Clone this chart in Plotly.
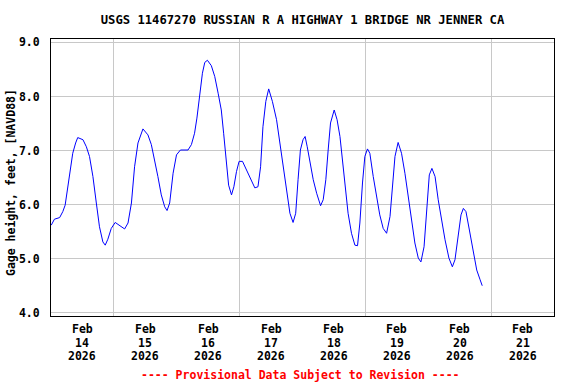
import plotly.graph_objects as go
import pandas as pd

# Hours since 2026-02-14 00:00 and gage height (feet, NAVD88)
hours = [0.1, 1.3, 3.3, 4.5, 5.4, 6.4, 7.3, 8.3, 9.4, 10.2, 12.2, 13.5, 14.7, 16.0, 17.3,
         18.5, 19.8, 20.7, 21.7, 23.0, 24.5, 26.2, 28.1, 29.4, 30.7, 31.9, 33.2, 35.1, 37.0,
         38.3, 39.6, 40.8, 42.1, 43.4, 44.3, 45.3, 46.6, 47.9, 49.4, 52.3, 53.6, 54.8, 55.7,
         56.8, 57.8, 58.7, 59.7, 61.2, 62.5, 63.8, 65.0, 65.9, 67.0, 67.8, 68.9, 69.8, 70.8,
         71.8, 73.1, 74.6, 76.2, 77.8, 79.0, 80.0, 80.9, 82.0, 83.1, 84.5, 86.1, 87.3, 88.6,
         89.9, 91.2, 92.4, 93.4, 94.3, 95.2, 96.2, 97.0, 97.8, 98.8, 100.1, 101.4, 102.9,
         103.9, 104.9, 105.8, 106.7, 108.1, 109.2, 110.3, 111.3, 112.4, 113.4, 114.7, 116.0,
         117.0, 117.9, 118.9, 119.8, 120.8, 121.7, 123.0, 124.3, 125.5, 126.8, 128.1, 129.4,
         130.4, 131.3, 132.5, 133.8, 135.1, 136.4, 137.7, 138.9, 140.2, 141.2, 142.4, 143.4,
         144.4, 145.4, 146.6, 147.8, 149.1, 150.4, 151.9, 153.2, 154.2, 155.5, 156.5, 157.4,
         158.4, 159.7, 161.2, 162.5, 163.8, 164.6]
gage = [5.62, 5.73, 5.76, 5.87, 5.99, 6.30, 6.58, 6.95, 7.14, 7.24, 7.20, 7.07, 6.89, 6.52, 6.03,
        5.59, 5.31, 5.25, 5.36, 5.56, 5.67, 5.62, 5.55, 5.66, 6.03, 6.70, 7.14, 7.40, 7.29,
        7.11, 6.83, 6.52, 6.18, 5.96, 5.89, 6.03, 6.58, 6.92, 7.01, 7.01, 7.11, 7.32, 7.60,
        8.06, 8.43, 8.63, 8.67, 8.57, 8.37, 8.06, 7.75, 7.32, 6.77, 6.36, 6.18, 6.33, 6.61,
        6.80, 6.80, 6.64, 6.46, 6.31, 6.33, 6.70, 7.44, 7.91, 8.14, 7.91, 7.57, 7.17, 6.70,
        6.21, 5.84, 5.67, 5.84, 6.46, 7.01, 7.20, 7.26, 7.07, 6.80, 6.46, 6.21, 5.98,
        6.09, 6.46, 7.01, 7.51, 7.75, 7.57, 7.26, 6.83, 6.33, 5.84, 5.47, 5.25,
        5.24, 5.66, 6.40, 6.89, 7.03, 6.95, 6.52, 6.15, 5.81, 5.56, 5.47, 5.78,
        6.40, 6.89, 7.15, 6.95, 6.58, 6.15, 5.72, 5.29, 5.01, 4.94, 5.22, 5.96,
        6.55, 6.67, 6.52, 6.09, 5.69, 5.35, 5.01, 4.85, 4.98, 5.41, 5.81, 5.93,
        5.87, 5.53, 5.10, 4.79, 4.61, 4.50]

start = pd.Timestamp("2026-02-14 00:00")
days = [14, 15, 16, 17, 18, 19, 20, 21]
tick_month = "Feb"
tick_year = "2026"
y_ticks = [4.0, 5.0, 6.0, 7.0, 8.0, 9.0]

times = start + pd.to_timedelta(hours, unit="h")
tick_pos = [pd.Timestamp(2026, 2, d, 12) for d in days]

FONT = "DejaVu Sans Mono"
grid = "#c8c8c8"
tfont = dict(family=FONT, size=11.5, color="black", weight="bold")

fig = go.Figure()
fig.add_trace(go.Scatter(x=times, y=gage, mode="lines",
                         line=dict(color="#0000ff", width=1), showlegend=False,
                         hoverinfo="x+y"))

annotations = []
# x tick labels: three rows (month, day, year) centred at noon of each day
for pos, d in zip(tick_pos, days):
    for text, shift in ((tick_month, -13), (str(d), -26.5), (tick_year, -39.5)):
        annotations.append(dict(text=text, x=pos, xref="x", y=0, yref="paper",
                                yshift=shift, xanchor="center", yanchor="middle",
                                showarrow=False, font=tfont))
annotations += [
    dict(text="Gage height, feet, [NAVD88]", textangle=-90,
         xref="paper", yref="paper", x=(11 - 51) / 503, y=0.48,
         xanchor="center", yanchor="middle", showarrow=False, font=tfont),
    dict(text="---- Provisional Data Subject to Revision ----",
         xref="paper", yref="paper", x=0.497, y=0, yshift=-59,
         xanchor="center", yanchor="middle", showarrow=False,
         font=dict(family=FONT, size=11.5, color="#ff0000", weight="bold")),
]

fig.update_layout(
    width=576, height=384,
    margin=dict(l=51, r=22, t=39, b=68, autoexpand=False),
    paper_bgcolor="white", plot_bgcolor="white",
    font=tfont,
    title=dict(text="USGS 11467270 RUSSIAN R A HIGHWAY 1 BRIDGE NR JENNER CA",
               x=0.5, xref="paper", yref="container", y=1 - 20 / 384, yanchor="middle",
               font=dict(family=FONT, size=12.2, color="black", weight="bold")),
    xaxis=dict(
        type="date", automargin=False,
        range=[start, start + pd.Timedelta(days=8)],
        showticklabels=False,
        showgrid=False, ticks="", showline=True, mirror=True,
        linecolor="black", linewidth=1, zeroline=False,
        minor=dict(tickmode="linear", tick0=start, dtick=86400000,
                   showgrid=True, gridcolor=grid, gridwidth=1, ticks=""),
    ),
    yaxis=dict(
        automargin=False,
        range=[3.94, 9.063],
        tickmode="array", tickvals=y_ticks, tickformat=".1f",
        showgrid=True, gridcolor=grid, gridwidth=1, ticks="",
        ticklabelstandoff=8,
        showline=True, mirror=True, linecolor="black", linewidth=1, zeroline=False,
        tickfont=tfont,
    ),
    annotations=annotations,
)

fig.write_html("out.html", config={"displayModeBar": False},
               post_script="document.body.style.margin='0';")
